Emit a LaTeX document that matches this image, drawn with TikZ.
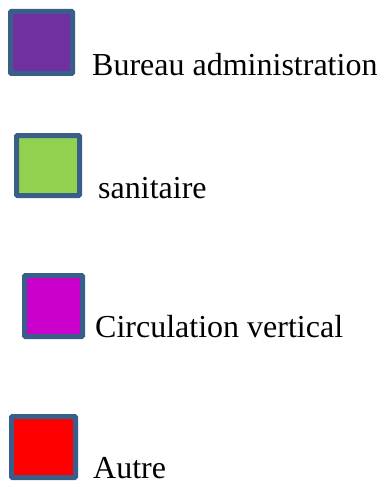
\documentclass[tikz,border=0pt]{standalone}
\usepackage{fontspec}
\setmainfont{Liberation Serif}
\usetikzlibrary{positioning}
\definecolor{boxframe}{RGB}{58,94,138}
\definecolor{bureaupurple}{RGB}{112,48,160}
\definecolor{sanitgreen}{RGB}{146,208,80}
\definecolor{circmagenta}{RGB}{204,0,204}
\definecolor{autrered}{RGB}{255,0,0}

\begin{document}
\begin{tikzpicture}[x=1pt, y=-1pt,
    legendbox/.style={draw=boxframe, line width=5pt, rounded corners=1pt, inner sep=0pt, minimum width=62pt, minimum height=62pt},
    legendtext/.style={anchor=base west, inner sep=0pt, font=\fontsize{32}{38}\selectfont}
]
    \useasboundingbox (0,0) rectangle (382,484);
    % legend entries
    \node[legendbox, fill=bureaupurple] (bureau) at (41.5,42.5) {};
    \node[legendtext] (bureaulbl) at (92,76) {Bureau administration};
    \node[legendbox, fill=sanitgreen, minimum width=63pt, minimum height=60pt] (sanit) at (48,165.5) {};
    \node[legendtext] (sanitlbl) at (98,198) {sanitaire};
    \node[legendbox, fill=circmagenta, minimum width=58pt, minimum height=61pt] (circ) at (53.5,306) {};
    \node[legendtext] (circlbl) at (95,337) {Circulation vertical};
    \node[legendbox, fill=autrered, minimum width=64pt, minimum height=61pt] (autre) at (43.5,447) {};
    \node[legendtext] (autrelbl) at (93,478) {Autre};
\end{tikzpicture}
\end{document}
